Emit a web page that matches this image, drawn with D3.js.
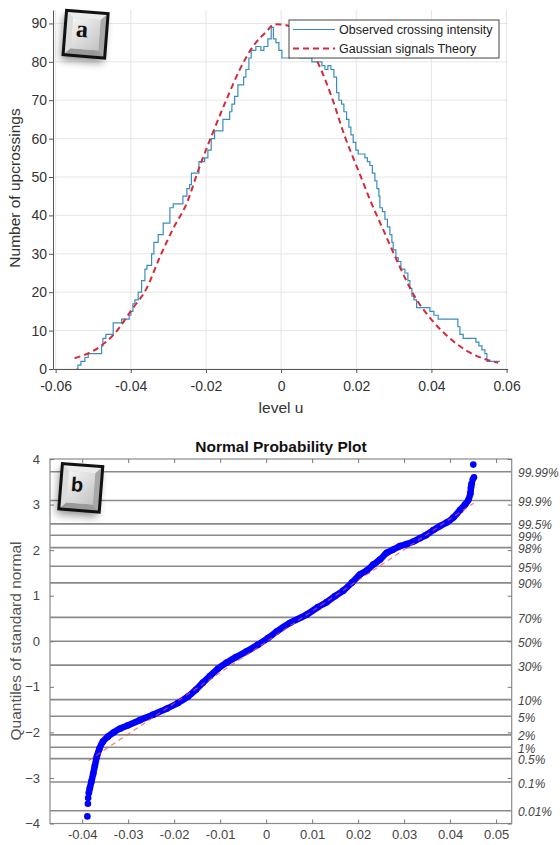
<!DOCTYPE html>
<html>
<head>
<meta charset="utf-8">
<script src="https://cdn.jsdelivr.net/npm/d3@7"></script>
<style>
  body { margin: 0; background: #fff; }
  svg { display: block; }
  text { font-family: "Liberation Sans", Arial, sans-serif; }
</style>
</head>
<body>
<svg id="chart" width="560" height="845"></svg>
<script>
// ---- panel a : upcrossing intensity ----
var obsLevel = [-0.05452, -0.05407, -0.05327, -0.05221, -0.05133, -0.04777, -0.04742, -0.04662, -0.04468, -0.04244,
  -0.04042, -0.03997, -0.03944, -0.03890, -0.03803, -0.03712, -0.03624, -0.03571, -0.03446, -0.03385,
  -0.03270, -0.03137, -0.02959, -0.02871, -0.02613, -0.02507, -0.02435, -0.02387, -0.02187, -0.02036,
  -0.01948, -0.01860, -0.01770, -0.01549, -0.01370, -0.01309, -0.01237, -0.01150, -0.00998, -0.00937,
  -0.00857, -0.00796, -0.00671, -0.00538, -0.00458, -0.00351, -0.00263, -0.00205, -0.00138, -0.00059,
  0.00021, 0.00234, 0.00500, 0.00820, 0.00987, 0.01086, 0.01166, 0.01245, 0.01325, 0.01405,
  0.01477, 0.01538, 0.01610, 0.01671, 0.01743, 0.01804, 0.01857, 0.01919, 0.01990, 0.02052,
  0.02230, 0.02296, 0.02363, 0.02429, 0.02496, 0.02549, 0.02602, 0.02629, 0.02696, 0.02762,
  0.02829, 0.02895, 0.02948, 0.02983, 0.03055, 0.03116, 0.03188, 0.03294, 0.03374, 0.03427,
  0.03481, 0.03534, 0.03606, 0.03960, 0.04066, 0.04180, 0.04271, 0.04705, 0.04758, 0.04846,
  0.05184, 0.05264, 0.05344, 0.05424, 0.05476, 0.05822];
var obsCount = [0, 1, 2, 3, 4, 6, 8, 9, 12, 13,
  14, 15, 17, 18, 20, 23, 26, 27, 30, 33,
  35, 38, 42, 43, 45, 47, 48, 51, 54, 55,
  57, 60, 62, 65, 67, 69, 71, 74, 76, 78,
  81, 83, 84, 83, 84, 86, 89, 86, 85, 83,
  81, 82, 81, 80, 80, 79, 78, 79, 78, 76,
  72, 70, 69, 67, 65, 63, 61, 59, 57, 56,
  55, 54, 53, 51, 49, 47, 45, 42, 41, 39,
  37, 35, 33, 31, 29, 28, 26, 25, 23, 21,
  19, 18, 16, 15, 14, 13, 13, 11, 9, 8,
  7, 6, 5, 4, 2, 2];

var theoryLevel = [-0.05495, -0.04822, -0.04423, -0.03978, -0.03579, -0.03225, -0.02871, -0.02515, -0.02169, -0.01860,
  -0.01461, -0.01104, -0.00750, -0.00396, -0.00173, 0.00101, 0.00987, 0.01344, 0.01698, 0.02052,
  0.02408, 0.02762, 0.03116, 0.03560, 0.04005, 0.04537, 0.04979, 0.05511, 0.05777];
var theoryCount = [2.8, 5.8, 9.3, 15.4, 21, 29.2, 36.6, 43.1, 52.7, 60.5,
  70, 77.9, 84, 87.8, 89.8, 89.6, 79.6, 70.9, 60.5, 51.8,
  43.1, 35.3, 27.5, 18.8, 12.8, 7.6, 4.5, 2.3, 1.6];

var xTicksA = [-0.06, -0.04, -0.02, 0, 0.02, 0.04, 0.06];
var yTicksA = [0, 10, 20, 30, 40, 50, 60, 70, 80, 90];
var legendA = ["Observed crossing intensity", "Gaussian signals Theory"];

// ---- panel b : normal probability plot ----
var qqValue = [-0.03887, -0.03876, -0.03870, -0.03855, -0.03833, -0.03800, -0.03761, -0.03724, -0.03681, -0.03626,
  -0.03550, -0.03441, -0.03311, -0.03180, -0.03000, -0.02745, -0.02456, -0.02164, -0.01919, -0.01701,
  -0.01527, -0.01375, -0.01223, -0.01049, -0.00859, -0.00657, -0.00424, -0.00178, 0.00039, 0.00228,
  0.00518, 0.00881, 0.01127, 0.01316, 0.01497, 0.01677, 0.01866, 0.02040, 0.02186, 0.02330,
  0.02476, 0.02621, 0.02765, 0.02911, 0.03056, 0.03200, 0.03346, 0.03476, 0.03635, 0.03781,
  0.03926, 0.04070, 0.04216, 0.04325, 0.04396, 0.04440, 0.04455, 0.04470, 0.04492, 0.04520, 0.04505];
var qqQuantile = [-3.844, -3.565, -3.440, -3.330, -3.221, -3.082, -2.907, -2.731, -2.534, -2.358,
  -2.204, -2.094, -1.996, -1.919, -1.842, -1.732, -1.611, -1.480, -1.355, -1.216,
  -1.063, -0.909, -0.766, -0.602, -0.470, -0.349, -0.222, -0.075, 0.068, 0.211,
  0.402, 0.584, 0.749, 0.858, 0.990, 1.111, 1.287, 1.463, 1.550, 1.682,
  1.793, 1.939, 2.011, 2.088, 2.132, 2.187, 2.263, 2.329, 2.439, 2.527,
  2.604, 2.714, 2.878, 2.999, 3.098, 3.240, 3.372, 3.460, 3.548, 3.598, 3.877];
var refValue = [-0.0386, 0.0451];
var refQuantile = [-2.62, 3.03];

var probLabels = ["0.01%", "0.1%", "0.5%", "1%", "2%", "5%", "10%", "30%", "50%",
  "70%", "90%", "95%", "98%", "99%", "99.5%", "99.9%", "99.99%"];
var probZ = [-3.719, -3.090, -2.576, -2.326, -2.054, -1.645, -1.282, -0.524, 0,
  0.524, 1.282, 1.645, 2.054, 2.326, 2.576, 3.090, 3.719];
var xTicksB = [-0.04, -0.03, -0.02, -0.01, 0, 0.01, 0.02, 0.03, 0.04, 0.05];
var yTicksB = [-4, -3, -2, -1, 0, 1, 2, 3, 4];

var svg = d3.select("#chart");
var defs = svg.append("defs");

var shadow = defs.append("filter").attr("id", "keyShadow")
  .attr("x", "-50%").attr("y", "-50%").attr("width", "200%").attr("height", "200%");
shadow.append("feGaussianBlur").attr("in", "SourceAlpha").attr("stdDeviation", 4).attr("result", "blur");
shadow.append("feOffset").attr("in", "blur").attr("dx", -2).attr("dy", 5).attr("result", "off");
shadow.append("feComponentTransfer").attr("in", "off").attr("result", "soft")
  .append("feFuncA").attr("type", "linear").attr("slope", 0.45);
var merge = shadow.append("feMerge");
merge.append("feMergeNode").attr("in", "soft");
merge.append("feMergeNode").attr("in", "SourceGraphic");

var faceGrad = defs.append("linearGradient").attr("id", "keyFace")
  .attr("x1", "0").attr("y1", "0").attr("x2", "1").attr("y2", "1");
faceGrad.append("stop").attr("offset", "0%").attr("stop-color", "#f4f4f4");
faceGrad.append("stop").attr("offset", "100%").attr("stop-color", "#c4c4c4");

function keycap(cx, cy, w, h, angle, letter, family, size, dx, dy) {
  var g = svg.append("g").attr("transform", "translate(" + cx + "," + cy + ") rotate(" + angle + ")");
  var x0 = -w / 2, y0 = -h / 2, x1 = w / 2, y1 = h / 2, i = 7;
  g.append("rect").attr("x", x0).attr("y", y0).attr("width", w).attr("height", h)
    .attr("fill", "#ccc").attr("filter", "url(#keyShadow)");
  var bevels = [
    { pts: [[x0, y0], [x1, y0], [x1 - i, y0 + i], [x0 + i, y0 + i]], fill: "#ececec" },
    { pts: [[x0, y0], [x0 + i, y0 + i], [x0 + i, y1 - i], [x0, y1]], fill: "#dcdcdc" },
    { pts: [[x1, y0], [x1, y1], [x1 - i, y1 - i], [x1 - i, y0 + i]], fill: "#a8a8a8" },
    { pts: [[x0, y1], [x0 + i, y1 - i], [x1 - i, y1 - i], [x1, y1]], fill: "#9a9a9a" }
  ];
  g.selectAll("polygon").data(bevels).enter().append("polygon")
    .attr("points", function(d) { return d.pts.map(function(p) { return p.join(","); }).join(" "); })
    .attr("fill", function(d) { return d.fill; });
  g.append("rect").attr("x", x0 + i).attr("y", y0 + i).attr("width", w - 2 * i).attr("height", h - 2 * i)
    .attr("fill", "url(#keyFace)");
  g.append("rect").attr("x", x0).attr("y", y0).attr("width", w).attr("height", h)
    .attr("fill", "none").attr("stroke", "#111").attr("stroke-width", 3);
  g.append("text").attr("x", dx).attr("y", dy).attr("text-anchor", "middle")
    .style("font-family", family).attr("font-weight", "bold").attr("font-size", size)
    .attr("fill", "#111").text(letter);
}

// ================= panel a =================
var xA = d3.scaleLinear().domain([-0.0607, 0.0603]).range([53, 507.7]);
var yA = d3.scaleLinear().domain([0, 93.5]).range([369, 10]);
var gA = svg.append("g");

gA.selectAll(".vgrid").data(xTicksA).enter().append("line")
  .attr("x1", xA).attr("x2", xA).attr("y1", yA(93.5)).attr("y2", yA(0))
  .attr("stroke", "#e6e6e6").attr("stroke-width", 1);
gA.selectAll(".hgrid").data(yTicksA).enter().append("line")
  .attr("x1", xA(-0.0607)).attr("x2", xA(0.0603)).attr("y1", yA).attr("y2", yA)
  .attr("stroke", "#e6e6e6").attr("stroke-width", 1);

var obsPts = obsLevel.map(function(u, k) { return [u, obsCount[k]]; });
var theoPts = theoryLevel.map(function(u, k) { return [u, theoryCount[k]]; });

gA.append("path").datum(obsPts)
  .attr("d", d3.line().x(function(d) { return xA(d[0]); }).y(function(d) { return yA(d[1]); }).curve(d3.curveStepAfter))
  .attr("fill", "none").attr("stroke", "#3a8cc0").attr("stroke-width", 1.2);
gA.append("path").datum(theoPts)
  .attr("d", d3.line().x(function(d) { return xA(d[0]); }).y(function(d) { return yA(d[1]); }).curve(d3.curveMonotoneX))
  .attr("fill", "none").attr("stroke", "#d42a3a").attr("stroke-width", 2).attr("stroke-dasharray", "6,4");

var axA = gA.append("g").attr("transform", "translate(0," + yA(0) + ")")
  .call(d3.axisBottom(xA).tickValues(xTicksA).tickSize(4).tickSizeOuter(0)
    .tickFormat(function(d) { return d === 0 ? "0" : d.toFixed(2); }));
var ayA = gA.append("g").attr("transform", "translate(" + xA(-0.0607) + ",0)")
  .call(d3.axisLeft(yA).tickValues(yTicksA).tickSize(4).tickSizeOuter(0));
[axA, ayA].forEach(function(a) {
  a.select(".domain").attr("stroke", "#555");
  a.selectAll(".tick line").attr("stroke", "#555");
  a.selectAll(".tick text").attr("fill", "#333").attr("font-size", 14)
    .style("font-family", "Liberation Sans, Arial, sans-serif");
});
axA.selectAll(".tick text").attr("dy", "1.05em");
ayA.selectAll(".tick text").attr("x", -6);

gA.append("text").attr("x", 281).attr("y", 413).attr("text-anchor", "middle")
  .attr("font-size", 15.5).attr("fill", "#333").text("level u");
gA.append("text").attr("transform", "translate(20,188) rotate(-90)").attr("text-anchor", "middle")
  .attr("font-size", 15.5).attr("fill", "#333").text("Number of upcrossings");

// legend
var lg = gA.append("g").attr("transform", "translate(289,20)");
lg.append("rect").attr("width", 210).attr("height", 38).attr("fill", "#fff").attr("stroke", "#444").attr("stroke-width", 1);
var legendStyles = [
  { color: "#3a8cc0", dash: null, w: 1.2 },
  { color: "#d42a3a", dash: "6,4", w: 2 }
];
legendA.forEach(function(name, k) {
  var yy = 9.5 + k * 19;
  lg.append("line").attr("x1", 4).attr("x2", 46).attr("y1", yy).attr("y2", yy)
    .attr("stroke", legendStyles[k].color).attr("stroke-width", legendStyles[k].w)
    .attr("stroke-dasharray", legendStyles[k].dash);
  lg.append("text").attr("x", 50).attr("y", yy + 4.5).attr("font-size", 12.5).attr("fill", "#222").text(name);
});

keycap(85.6, 34.2, 41.7, 44.5, 4.5, "a", "Liberation Serif, DejaVu Serif, serif", 24, -4, 3);

// ================= panel b =================
var xB = d3.scaleLinear().domain([-0.047, 0.0534]).range([50, 511.7]);
var yB = d3.scaleLinear().domain([-4, 4]).range([823.5, 459]);
var gB = svg.append("g");

gB.append("text").attr("x", 281).attr("y", 451.5).attr("text-anchor", "middle")
  .attr("font-size", 15.5).attr("font-weight", "bold").attr("fill", "#111").text("Normal Probability Plot");

gB.selectAll(".pline").data(probZ).enter().append("line")
  .attr("x1", xB(-0.047)).attr("x2", xB(0.0534)).attr("y1", yB).attr("y2", yB)
  .attr("stroke", "#8a8a8a").attr("stroke-width", 1.6);

gB.selectAll(".plabel").data(probLabels).enter().append("text")
  .attr("x", 518).attr("y", function(d, k) { return yB(probZ[k]) + 5.5; })
  .attr("font-size", 12).attr("font-style", "italic").attr("fill", "#444").text(function(d) { return d; });

gB.append("rect").attr("x", xB(-0.047)).attr("y", yB(4)).attr("width", xB(0.0534) - xB(-0.047))
  .attr("height", yB(-4) - yB(4)).attr("fill", "none").attr("stroke", "#8a8a8a").attr("stroke-width", 1.2);

var axB = gB.append("g").attr("transform", "translate(0," + yB(-4) + ")")
  .call(d3.axisBottom(xB).tickValues(xTicksB).tickSize(-4).tickSizeOuter(0).tickPadding(6)
    .tickFormat(function(d) { return d === 0 ? "0" : d.toFixed(2); }));
var axBt = gB.append("g").attr("transform", "translate(0," + yB(4) + ")")
  .call(d3.axisTop(xB).tickValues(xTicksB).tickSize(-4).tickSizeOuter(0).tickFormat(""));
var ayB = gB.append("g").attr("transform", "translate(" + xB(-0.047) + ",0)")
  .call(d3.axisLeft(yB).tickValues(yTicksB).tickSize(-4).tickSizeOuter(0).tickPadding(10));
var ayBr = gB.append("g").attr("transform", "translate(" + xB(0.0534) + ",0)")
  .call(d3.axisRight(yB).tickValues(yTicksB).tickSize(-4).tickSizeOuter(0).tickFormat(""));
[axB, axBt, ayB, ayBr].forEach(function(a) {
  a.select(".domain").remove();
  a.selectAll(".tick line").attr("stroke", "#777");
  a.selectAll(".tick text").attr("fill", "#444").attr("font-size", 13)
    .style("font-family", "Liberation Sans, Arial, sans-serif");
});
axB.selectAll(".tick text").attr("dy", "0.75em");

gB.append("text").attr("transform", "translate(21,641) rotate(-90)").attr("text-anchor", "middle")
  .attr("font-size", 15.5).attr("fill", "#555").text("Quantiles of standard normal");

var qqPts = qqValue.map(function(v, k) { return [v, qqQuantile[k]]; });
var bandPts = qqPts.filter(function(d) { return d[1] > -3.35 && d[1] < 3.5; });

gB.append("path").datum(bandPts)
  .attr("d", d3.line().x(function(d) { return xB(d[0]); }).y(function(d) { return yB(d[1]); }).curve(d3.curveCatmullRom))
  .attr("fill", "none").attr("stroke", "#0000ff").attr("stroke-width", 6.5)
  .attr("stroke-linecap", "round").attr("stroke-linejoin", "round");
gB.selectAll(".qq").data(qqPts).enter().append("circle")
  .attr("cx", function(d) { return xB(d[0]); }).attr("cy", function(d) { return yB(d[1]); })
  .attr("r", 3.3).attr("fill", "#0000ff");

gB.append("path").datum(refValue.map(function(v, k) { return [v, refQuantile[k]]; }))
  .attr("d", d3.line().x(function(d) { return xB(d[0]); }).y(function(d) { return yB(d[1]); }))
  .attr("fill", "none").attr("stroke", "#ff4a4a").attr("stroke-width", 1.2)
  .attr("stroke-dasharray", "5,4").attr("opacity", 0.75);

keycap(80.8, 487.8, 40.5, 45.5, 4.5, "b", "Liberation Sans, Arial, sans-serif", 20, -4, 4);
</script>
</body>
</html>
